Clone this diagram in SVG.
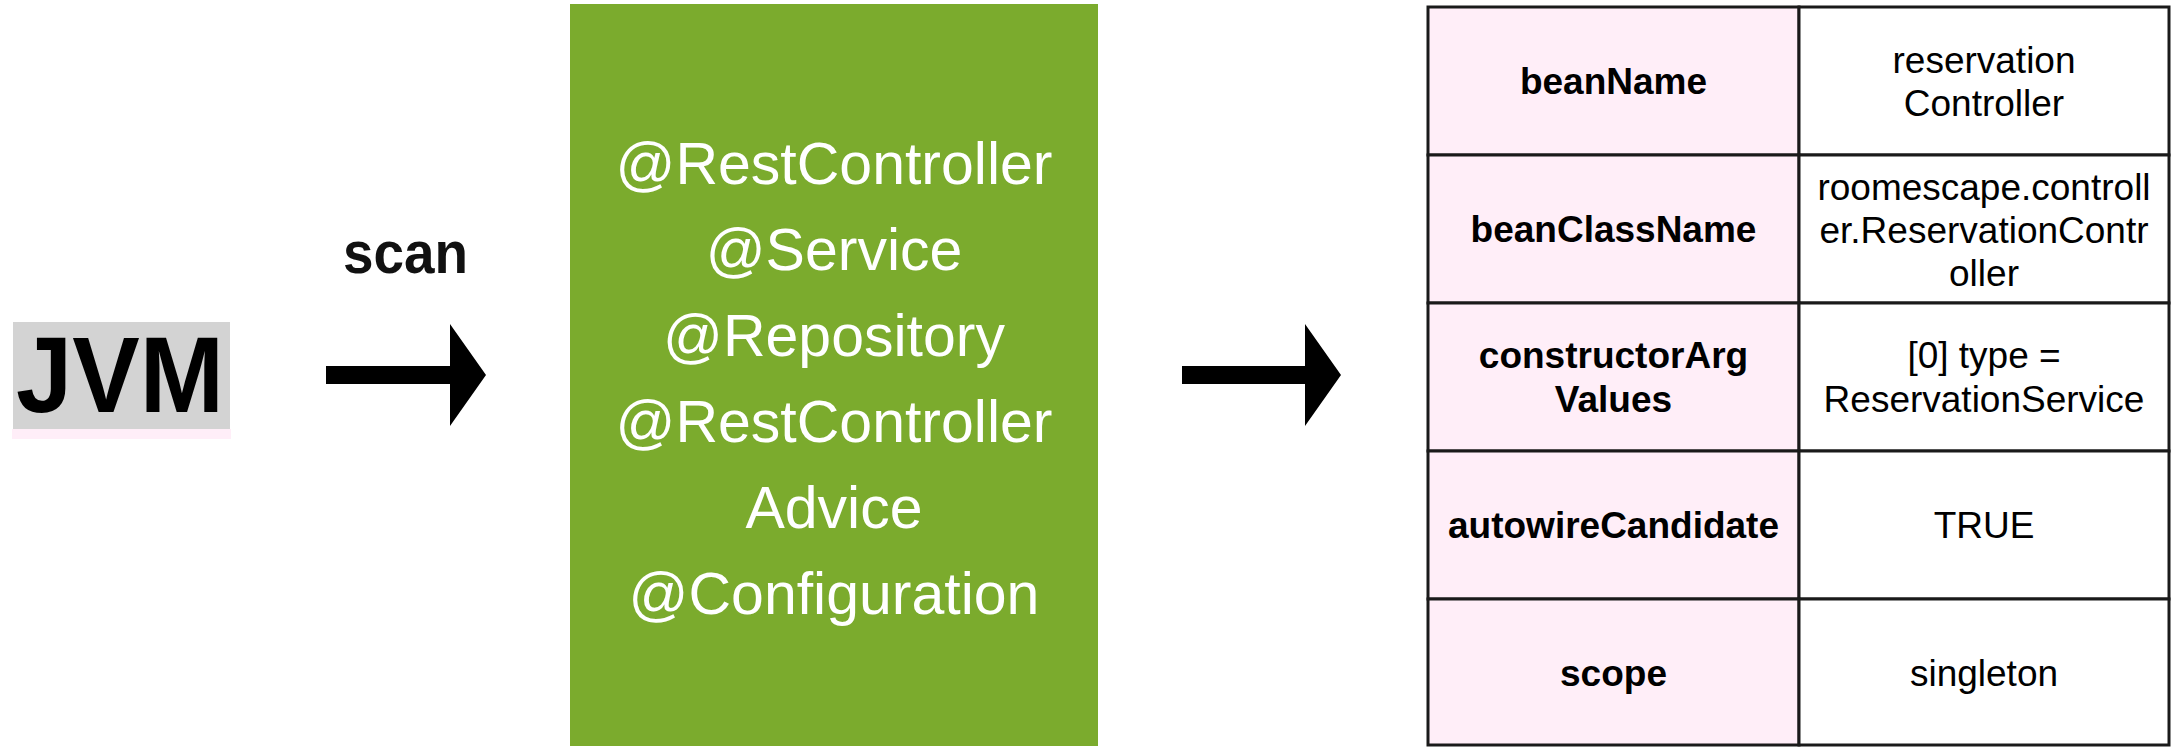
<svg xmlns="http://www.w3.org/2000/svg" width="2173" height="748" viewBox="0 0 2173 748">
<style>
.lbl{font-family:"Liberation Sans",Arial,sans-serif;font-size:37px;font-weight:bold;fill:#000;text-anchor:middle}
.val{font-family:"Liberation Sans",Arial,sans-serif;font-size:37px;fill:#000;text-anchor:middle}
.ann{font-family:"Liberation Sans",Arial,sans-serif;font-size:59px;fill:#fff;text-anchor:middle}
.key{fill:#FFEEF8;stroke:#1a1a1a;stroke-width:3}
.cell{fill:#fff;stroke:#1a1a1a;stroke-width:3}
.arrow{fill:#000}
</style>
<rect width="2173" height="748" fill="#fff"/>
<g id="jvm">
<rect x="12" y="429" width="219" height="10" fill="#FFEEF8"/>
<rect x="13" y="322" width="217" height="107" fill="#D3D3D3"/>
<text x="16" y="412" font-family="Liberation Sans,Arial,sans-serif" font-weight="bold" font-size="108" textLength="208" lengthAdjust="spacingAndGlyphs" fill="#000">JVM</text>
</g>
<g id="scan-label">
<text x="343" y="273" font-family="Liberation Sans,Arial,sans-serif" font-weight="bold" font-size="60" textLength="125" lengthAdjust="spacingAndGlyphs" fill="#111">scan</text>
</g>
<g id="annotations">
<rect x="570" y="4" width="528" height="742" fill="#7BAB2D"/>
<text class="ann" x="834" y="184">@RestController</text>
<text class="ann" x="834" y="270">@Service</text>
<text class="ann" x="834" y="356">@Repository</text>
<text class="ann" x="834" y="442">@RestController</text>
<text class="ann" x="834" y="528">Advice</text>
<text class="ann" x="834" y="614">@Configuration</text>
</g>
<g id="connectors">
<polygon class="arrow" points="326,366 450,366 450,324 486,375 450,426 450,384 326,384"/>
<polygon class="arrow" points="1182,366 1305,366 1305,324 1341,375 1305,426 1305,384 1182,384"/>
</g>
<g id="bean-definition">
<g id="row-beanName">
<rect class="key" x="1428" y="7" width="371" height="148"/>
<rect class="cell" x="1799" y="7" width="370" height="148"/>
<text class="lbl" x="1613.5" y="94">beanName</text>
<text class="val" x="1984" y="73">reservation</text>
<text class="val" x="1984" y="116">Controller</text>
</g>
<g id="row-beanClassName">
<rect class="key" x="1428" y="155" width="371" height="148"/>
<rect class="cell" x="1799" y="155" width="370" height="148"/>
<text class="lbl" x="1613.5" y="242">beanClassName</text>
<text class="val" x="1984" y="200">roomescape.controll</text>
<text class="val" x="1984" y="243">er.ReservationContr</text>
<text class="val" x="1984" y="286">oller</text>
</g>
<g id="row-constructorArgValues">
<rect class="key" x="1428" y="303" width="371" height="148"/>
<rect class="cell" x="1799" y="303" width="370" height="148"/>
<text class="lbl" x="1613.5" y="368">constructorArg</text>
<text class="lbl" x="1613.5" y="412">Values</text>
<text class="val" x="1984" y="368">[0] type =</text>
<text class="val" x="1984" y="412">ReservationService</text>
</g>
<g id="row-autowireCandidate">
<rect class="key" x="1428" y="451" width="371" height="148"/>
<rect class="cell" x="1799" y="451" width="370" height="148"/>
<text class="lbl" x="1613.5" y="538">autowireCandidate</text>
<text class="val" x="1984" y="538">TRUE</text>
</g>
<g id="row-scope">
<rect class="key" x="1428" y="599" width="371" height="146"/>
<rect class="cell" x="1799" y="599" width="370" height="146"/>
<text class="lbl" x="1613.5" y="686">scope</text>
<text class="val" x="1984" y="686">singleton</text>
</g>
</g>
</svg>
